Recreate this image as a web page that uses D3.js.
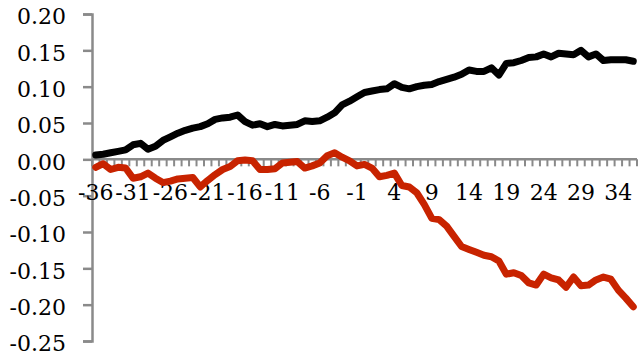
<!DOCTYPE html>
<html>
<head>
<meta charset="utf-8">
<script src="https://cdn.jsdelivr.net/npm/d3@7/dist/d3.min.js"></script>
<style>
  html, body { margin: 0; padding: 0; background: #fff; }
  svg { display: block; }
  .lbl text { font-family: "DejaVu Serif", serif; font-size: 22px; fill: #000; }
</style>
</head>
<body>
<svg id="chart" width="640" height="357"></svg>
<script>
// Event-time categories
const periods = d3.range(-36, 37);

// Tick labels
const xTickLabels = [-36, -31, -26, -21, -16, -11, -6, -1, 4, 9, 14, 19, 24, 29, 34];
const yTickValues = [0.20, 0.15, 0.10, 0.05, 0.00, -0.05, -0.10, -0.15, -0.20, -0.25];

// Black series
const blackSeries = [
  0.006, 0.007, 0.009, 0.011, 0.013, 0.020, 0.022, 0.014, 0.018, 0.026,
  0.031, 0.036, 0.040, 0.043, 0.045, 0.049, 0.055, 0.057, 0.058, 0.061,
  0.052, 0.047, 0.049, 0.045, 0.048, 0.046, 0.047, 0.048, 0.053, 0.052,
  0.053, 0.058, 0.064, 0.075, 0.080, 0.086, 0.092, 0.094, 0.096, 0.097,
  0.104, 0.099, 0.097, 0.100, 0.102, 0.103, 0.107, 0.110, 0.113, 0.117,
  0.123, 0.121, 0.121, 0.126, 0.116, 0.132, 0.133, 0.136, 0.140, 0.141,
  0.145, 0.141, 0.146, 0.145, 0.144, 0.150, 0.141, 0.145, 0.136, 0.137,
  0.137, 0.137, 0.135
];

// Red series
const redSeries = [
  -0.011, -0.006, -0.014, -0.011, -0.012, -0.026, -0.024, -0.019, -0.026, -0.032,
  -0.030, -0.027, -0.026, -0.025, -0.038, -0.029, -0.021, -0.014, -0.010, -0.002,
  -0.001, -0.002, -0.014, -0.014, -0.013, -0.005, -0.004, -0.003, -0.012, -0.009,
  -0.005, 0.005, 0.009, 0.003, -0.002, -0.009, -0.007, -0.012, -0.024, -0.022,
  -0.019, -0.036, -0.038, -0.046, -0.062, -0.081, -0.083, -0.092, -0.106, -0.120,
  -0.124, -0.128, -0.132, -0.134, -0.140, -0.158, -0.156, -0.160, -0.170, -0.173,
  -0.158, -0.163, -0.166, -0.176, -0.162, -0.174, -0.173, -0.166, -0.162, -0.165,
  -0.180, -0.191, -0.203
];

const svg = d3.select("#chart");
const plotLeft = 92, plotRight = 637, plotTop = 14, plotBottom = 341;
const axisColor = "#8a8a8a";

const x = d3.scaleBand().domain(periods).range([plotLeft, plotRight]).padding(0);
const y = d3.scaleLinear().domain([-0.25, 0.20]).range([plotBottom, plotTop]);

const fmt = d => d3.format(".2f")(d).replace("\u2212", "-");

// Y axis
const yAxis = svg.append("g")
  .attr("class", "lbl")
  .attr("transform", `translate(${plotLeft},0)`)
  .call(d3.axisLeft(y).tickValues(yTickValues).tickSize(9).tickPadding(17).tickFormat(fmt));
yAxis.select(".domain").attr("stroke", axisColor).attr("stroke-width", 2.5);
yAxis.selectAll(".tick line").attr("stroke", axisColor).attr("stroke-width", 2.5);
yAxis.selectAll(".tick text").attr("dy", "0.45em");

// X axis along zero, ticks at category boundaries
const y0 = y(0);
const xg = svg.append("g").attr("transform", `translate(0,${y0})`);
const boundaries = periods.map(p => x(p)).concat([x(periods[periods.length - 1]) + x.bandwidth()]);
xg.selectAll("line.tk").data(boundaries).join("line")
  .attr("class", "tk")
  .attr("x1", d => d).attr("x2", d => d)
  .attr("y1", 0).attr("y2", 7)
  .attr("stroke", axisColor).attr("stroke-width", 2);
xg.append("line")
  .attr("x1", plotLeft).attr("x2", plotRight).attr("y1", 0).attr("y2", 0)
  .attr("stroke", axisColor).attr("stroke-width", 2.5);

// X labels
const xLab = svg.append("g")
  .attr("class", "lbl")
  .attr("transform", `translate(0,${y0})`)
  .call(d3.axisBottom(x).tickValues(xTickLabels).tickSize(0).tickPadding(25)
    .tickFormat(d => String(d)));
xLab.select(".domain").remove();
xLab.selectAll(".tick text").attr("dy", "0.72em");

// Lines
const line = vals => d3.line()
  .x((d, i) => x(periods[i]) + x.bandwidth() / 2)
  .y(d => y(d))(vals);

svg.append("path")
  .attr("d", line(blackSeries))
  .attr("fill", "none").attr("stroke", "#000")
  .attr("stroke-width", 7).attr("stroke-linejoin", "round").attr("stroke-linecap", "round");

svg.append("path")
  .attr("d", line(redSeries))
  .attr("fill", "none").attr("stroke", "#c82300")
  .attr("stroke-width", 7).attr("stroke-linejoin", "round").attr("stroke-linecap", "round");
</script>
</body>
</html>
